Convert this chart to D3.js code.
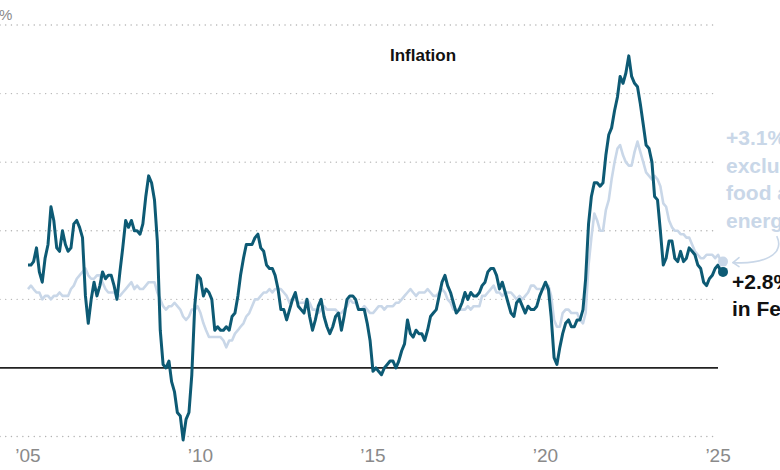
<!DOCTYPE html>
<html>
<head>
<meta charset="utf-8">
<script src="https://cdn.jsdelivr.net/npm/d3@7"></script>
<style>
  body { margin: 0; background: #fff; }
  svg { display: block; font-family: "Liberation Sans", Arial, sans-serif; }
  .grid line { stroke: #b3b3b3; stroke-width: 1.4; stroke-dasharray: 0.1 5.6; stroke-linecap: round; }
  .tick-x { fill: #8a8a8a; font-size: 19px; }
  .tick-y { fill: #8a8a8a; font-size: 15px; }
</style>
</head>
<body>
<svg id="chart" width="780" height="470"></svg>
<script>
// monthly year-over-year change, Jan 2005 .. Feb 2025
const cpiValues = [
  3.0, 3.0, 3.1, 3.5, 2.8, 2.5, 3.2, 3.6, 4.7, 4.3, 3.5, 3.4,
  4.0, 3.6, 3.4, 3.5, 4.2, 4.3, 4.1, 3.8, 2.1, 1.3, 2.0, 2.5,
  2.1, 2.4, 2.8, 2.6, 2.7, 2.7, 2.4, 2.0, 2.8, 3.5, 4.3, 4.1,
  4.3, 4.0, 4.0, 3.9, 4.2, 5.0, 5.6, 5.4, 4.9, 3.7, 1.1, 0.1,
  0.0, 0.2, -0.4, -0.7, -1.3, -1.4, -2.1, -1.5, -1.3, -0.2, 1.8, 2.7,
  2.6, 2.1, 2.3, 2.2, 2.0, 1.1, 1.2, 1.1, 1.1, 1.2, 1.1, 1.5,
  1.6, 2.1, 2.7, 3.2, 3.6, 3.6, 3.6, 3.8, 3.9, 3.5, 3.4, 3.0,
  2.9, 2.9, 2.7, 2.3, 1.7, 1.7, 1.4, 1.7, 2.0, 2.2, 1.8, 1.7,
  1.6, 2.0, 1.5, 1.1, 1.4, 1.8, 2.0, 1.5, 1.2, 1.0, 1.2, 1.5,
  1.6, 1.1, 1.5, 2.0, 2.1, 2.1, 2.0, 1.7, 1.7, 1.7, 1.3, 0.8,
  -0.1, 0.0, -0.1, -0.2, 0.0, 0.1, 0.2, 0.2, 0.0, 0.2, 0.5, 0.7,
  1.4, 1.0, 0.9, 1.1, 1.0, 1.0, 0.8, 1.1, 1.5, 1.6, 1.7, 2.1,
  2.5, 2.7, 2.4, 2.2, 1.9, 1.6, 1.7, 1.9, 2.2, 2.0, 2.2, 2.1,
  2.1, 2.2, 2.4, 2.5, 2.8, 2.9, 2.9, 2.7, 2.3, 2.5, 2.2, 1.9,
  1.6, 1.5, 1.9, 2.0, 1.8, 1.6, 1.8, 1.7, 1.7, 1.8, 2.1, 2.3,
  2.5, 2.3, 1.5, 0.3, 0.1, 0.6, 1.0, 1.3, 1.4, 1.2, 1.2, 1.4,
  1.4, 1.7, 2.6, 4.2, 5.0, 5.4, 5.4, 5.3, 5.4, 6.2, 6.8, 7.0,
  7.5, 7.9, 8.5, 8.3, 8.6, 9.1, 8.5, 8.3, 8.2, 7.7, 7.1, 6.5,
  6.4, 6.0, 5.0, 4.9, 4.0, 3.0, 3.2, 3.7, 3.7, 3.2, 3.1, 3.4,
  3.1, 3.2, 3.5, 3.4, 3.3, 3.0, 2.9, 2.5, 2.4, 2.6, 2.7, 2.9,
  3.0, 2.8
]

// excluding food and energy
const coreValues = [
  2.3, 2.4, 2.3, 2.2, 2.2, 2.0, 2.1, 2.1, 2.0, 2.1, 2.1, 2.2,
  2.1, 2.1, 2.1, 2.3, 2.4, 2.6, 2.7, 2.8, 2.9, 2.7, 2.6, 2.6,
  2.7, 2.7, 2.5, 2.3, 2.2, 2.2, 2.2, 2.1, 2.1, 2.2, 2.3, 2.4,
  2.5, 2.3, 2.4, 2.3, 2.3, 2.4, 2.5, 2.5, 2.5, 2.2, 2.0, 1.8,
  1.7, 1.8, 1.8, 1.9, 1.8, 1.7, 1.5, 1.4, 1.5, 1.7, 1.7, 1.8,
  1.6, 1.3, 1.1, 0.9, 0.9, 0.9, 0.9, 0.9, 0.8, 0.6, 0.8, 0.8,
  1.0, 1.1, 1.2, 1.3, 1.5, 1.6, 1.8, 2.0, 2.0, 2.1, 2.2, 2.2,
  2.3, 2.2, 2.3, 2.3, 2.3, 2.2, 2.1, 1.9, 2.0, 2.0, 1.9, 1.9,
  1.9, 2.0, 1.9, 1.7, 1.7, 1.6, 1.7, 1.8, 1.7, 1.7, 1.7, 1.7,
  1.6, 1.6, 1.7, 1.8, 2.0, 1.9, 1.9, 1.7, 1.7, 1.8, 1.7, 1.6,
  1.6, 1.7, 1.8, 1.8, 1.7, 1.8, 1.8, 1.8, 1.9, 1.9, 2.0, 2.1,
  2.2, 2.3, 2.2, 2.1, 2.2, 2.2, 2.2, 2.3, 2.2, 2.1, 2.1, 2.2,
  2.3, 2.2, 2.0, 1.9, 1.7, 1.7, 1.7, 1.7, 1.7, 1.8, 1.7, 1.8,
  1.8, 1.8, 2.1, 2.1, 2.2, 2.3, 2.4, 2.2, 2.2, 2.1, 2.2, 2.2,
  2.2, 2.1, 2.0, 2.1, 2.0, 2.1, 2.2, 2.4, 2.4, 2.3, 2.3, 2.3,
  2.3, 2.4, 2.1, 1.4, 1.2, 1.2, 1.6, 1.7, 1.7, 1.6, 1.6, 1.6,
  1.4, 1.3, 1.6, 3.0, 3.8, 4.5, 4.3, 4.0, 4.0, 4.6, 4.9, 5.5,
  6.0, 6.4, 6.5, 6.2, 6.0, 5.9, 5.9, 6.3, 6.6, 6.3, 6.0, 5.7,
  5.6, 5.5, 5.6, 5.5, 5.3, 4.8, 4.7, 4.3, 4.1, 4.0, 4.0, 3.9,
  3.9, 3.8, 3.8, 3.6, 3.4, 3.3, 3.2, 3.2, 3.3, 3.3, 3.3, 3.2,
  3.3, 3.1
]

const yTicks = [-2, 0, 2, 4, 6, 8, 10]
const xTickYears = [2005, 2010, 2015, 2020, 2025]
const xTickLabels = ["\u201905", "\u201910", "\u201915", "\u201920", "\u201925"]

const darkBlue = "#0d5a74"
const lightBlue = "#c9d7e8"

const months = cpiValues.map((_, i) => new Date(2005, i, 1))
const cpi = months.map((d, i) => [d, cpiValues[i]])
const core = months.map((d, i) => [d, coreValues[i]])

const svg = d3.select("#chart")

const x = d3.scaleTime()
  .domain([months[0], months[months.length - 1]])
  .range([28, 721])

const y = d3.scaleLinear()
  .domain([-2, 10])
  .range([436.5, 25])

// dotted gridlines, solid zero line
const grid = svg.append("g").attr("class", "grid")
grid.selectAll("line")
  .data(yTicks.filter(d => d != 0))
  .join("line")
  .attr("x1", 0)
  .attr("x2", 718)
  .attr("y1", d => y(d))
  .attr("y2", d => y(d))

svg.append("line")
  .attr("x1", 0)
  .attr("x2", 718)
  .attr("y1", y(0))
  .attr("y2", y(0))
  .attr("stroke", "#222")
  .attr("stroke-width", 1.6)

// only the unit of the top label is inside the frame
svg.append("text")
  .attr("class", "tick-y")
  .attr("x", -1)
  .attr("y", y(10) - 5)
  .text("%")

svg.append("g")
  .selectAll("text")
  .data(xTickYears)
  .join("text")
  .attr("class", "tick-x")
  .attr("text-anchor", "middle")
  .attr("x", d => x(new Date(d, 0, 1)))
  .attr("y", 462)
  .text((d, i) => xTickLabels[i])

svg.append("text")
  .attr("x", 423)
  .attr("y", 61)
  .attr("text-anchor", "middle")
  .attr("font-weight", "bold")
  .attr("font-size", 17)
  .attr("fill", "#111")
  .text("Inflation")

const line = d3.line()
  .x(d => x(d[0]))
  .y(d => y(d[1]))

svg.append("path")
  .datum(core)
  .attr("fill", "none")
  .attr("stroke", lightBlue)
  .attr("stroke-width", 2.6)
  .attr("stroke-linejoin", "round")
  .attr("d", line)

svg.append("path")
  .datum(cpi)
  .attr("fill", "none")
  .attr("stroke", darkBlue)
  .attr("stroke-width", 3)
  .attr("stroke-linejoin", "round")
  .attr("d", line)

// end dots
const lastCore = core[core.length - 1]
const lastCpi = cpi[cpi.length - 1]

svg.append("circle")
  .attr("cx", x(lastCore[0]) + 2)
  .attr("cy", y(lastCore[1]))
  .attr("r", 5)
  .attr("fill", lightBlue)

svg.append("circle")
  .attr("cx", x(lastCpi[0]) + 2)
  .attr("cy", y(lastCpi[1]))
  .attr("r", 5)
  .attr("fill", darkBlue)

// annotations
const coreNote = svg.append("text")
  .attr("font-weight", "bold")
  .attr("font-size", 21)
  .attr("fill", lightBlue)
;["+3.1%", "excluding", "food and", "energy"].forEach((t, i) => {
  coreNote.append("tspan")
    .attr("x", 726)
    .attr("y", 145 + i * 27.7)
    .text(t)
})

const cpiNote = svg.append("text")
  .attr("font-weight", "bold")
  .attr("font-size", 21)
  .attr("fill", "#111")
;["+2.8%", "in Feb."].forEach((t, i) => {
  cpiNote.append("tspan")
    .attr("x", 732)
    .attr("y", 289 + i * 27)
    .text(t)
})

// curved arrow from the note to the core dot
const ax = x(lastCore[0]) + 12
const ay = y(lastCore[1]) + 1
svg.append("path")
  .attr("fill", "none")
  .attr("stroke", lightBlue)
  .attr("stroke-width", 1.6)
  .attr("stroke-linecap", "round")
  .attr("d", `M${ax + 44},${ay - 26} C${ax + 52},${ay - 8} ${ax + 30},${ay + 2} ${ax},${ay}`)

svg.append("path")
  .attr("fill", "none")
  .attr("stroke", lightBlue)
  .attr("stroke-width", 1.6)
  .attr("stroke-linecap", "round")
  .attr("stroke-linejoin", "round")
  .attr("d", `M${ax + 6},${ay - 5} L${ax},${ay} L${ax + 6},${ay + 4}`)
</script>
</body>
</html>
